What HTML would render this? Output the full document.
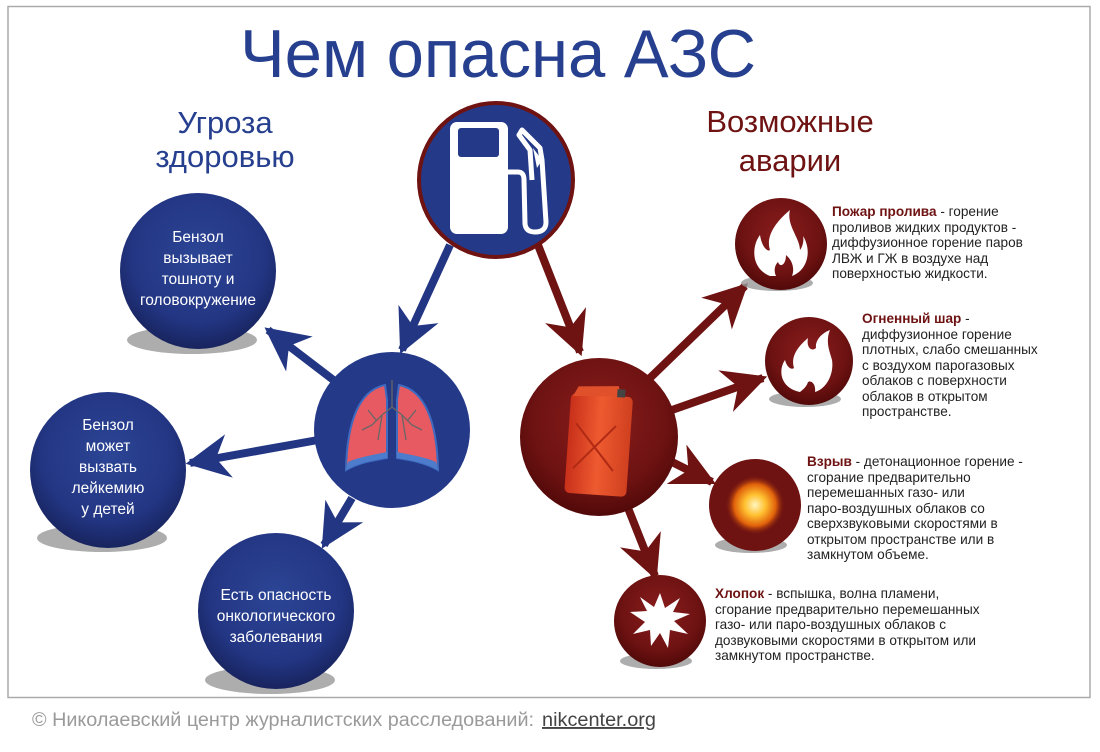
<!DOCTYPE html>
<html><head><meta charset="utf-8"><style>
html,body{margin:0;padding:0;background:#fff;}
svg{display:block;}
text{font-family:"Liberation Sans","DejaVu Sans",sans-serif;}
</style></head><body>
<svg width="1100" height="752" viewBox="0 0 1100 752" xmlns="http://www.w3.org/2000/svg">
<defs>
<radialGradient id="bg" cx="50%" cy="40%" r="60%"><stop offset="0" stop-color="#2c4595"/><stop offset="0.7" stop-color="#233684"/><stop offset="1" stop-color="#18245e"/></radialGradient>
<radialGradient id="rg" cx="50%" cy="40%" r="60%"><stop offset="0" stop-color="#8a1d1d"/><stop offset="0.7" stop-color="#6e1212"/><stop offset="1" stop-color="#520909"/></radialGradient>
<radialGradient id="boom" cx="50%" cy="50%" r="50%"><stop offset="0" stop-color="#fff6c0"/><stop offset="0.35" stop-color="#ffc030"/><stop offset="0.7" stop-color="#e0600a"/><stop offset="1" stop-color="#6e1212" stop-opacity="0"/></radialGradient>
<linearGradient id="can" x1="0" x2="1"><stop offset="0" stop-color="#c8301a"/><stop offset="0.5" stop-color="#ee5a30"/><stop offset="1" stop-color="#d0401f"/></linearGradient>
<marker id="ab" viewBox="0 0 10 10" refX="9" refY="5" markerWidth="5.5" markerHeight="5.5" orient="auto" markerUnits="strokeWidth"><path d="M0,0 L10,5 L0,10 L3,5 z" fill="#233684"/></marker>
<marker id="ar" viewBox="0 0 10 10" refX="9" refY="5" markerWidth="5.5" markerHeight="5.5" orient="auto" markerUnits="strokeWidth"><path d="M0,0 L10,5 L0,10 L3,5 z" fill="#6e1212"/></marker>
</defs>
<rect x="8" y="6.5" width="1082" height="691" fill="none" stroke="#aaa" stroke-width="1.5"/>

<text x="498" y="77" text-anchor="middle" font-size="68" fill="#263f8f" textLength="516" lengthAdjust="spacingAndGlyphs">Чем опасна АЗС</text>
<text x="225" y="133" text-anchor="middle" font-size="31" fill="#263f8f">Угроза</text>
<text x="225" y="167" text-anchor="middle" font-size="31" fill="#263f8f">здоровью</text>
<text x="790" y="132" text-anchor="middle" font-size="31" fill="#6e1212">Возможные</text>
<text x="790" y="171" text-anchor="middle" font-size="31" fill="#6e1212">аварии</text>

<g stroke="#233684" stroke-width="8" marker-end="url(#ab)" fill="none">
<line x1="450" y1="245" x2="402" y2="350"/>
<line x1="340" y1="385" x2="268" y2="330"/>
<line x1="318" y1="440" x2="190" y2="463"/>
<line x1="352" y1="498" x2="324" y2="545"/>
</g>
<g stroke="#6e1212" stroke-width="8" marker-end="url(#ar)" fill="none">
<line x1="538" y1="245" x2="580" y2="352"/>
<line x1="650" y1="378" x2="745" y2="286"/>
<line x1="672" y1="410" x2="763" y2="378"/>
<line x1="672" y1="462" x2="712" y2="482"/>
<line x1="628" y1="508" x2="655" y2="576"/>
</g>

<g fill="#999" opacity="0.8">
<ellipse cx="192" cy="340" rx="65" ry="14"/>
<ellipse cx="102" cy="538" rx="65" ry="14"/>
<ellipse cx="270" cy="680" rx="65" ry="14"/>
<ellipse cx="777" cy="283" rx="36" ry="8"/>
<ellipse cx="805" cy="399" rx="36" ry="8"/>
<ellipse cx="751" cy="545" rx="36" ry="8"/>
<ellipse cx="656" cy="661" rx="36" ry="8"/>
</g>

<circle cx="198" cy="271" r="78" fill="url(#bg)"/>
<circle cx="108" cy="470" r="78" fill="url(#bg)"/>
<circle cx="276" cy="611" r="78" fill="url(#bg)"/>
<circle cx="392" cy="430" r="78" fill="#243a88"/>
<circle cx="496" cy="180" r="77" fill="#243a88" stroke="#6e1212" stroke-width="4"/>
<circle cx="599" cy="437" r="79" fill="url(#rg)"/>

<rect x="450" y="122" width="58" height="112" rx="7" fill="#fff"/>
<rect x="458" y="128" width="41" height="29" rx="3" fill="#243a88"/>
<path d="M507,172 L518,172 Q524,172 524,180 L525,224 Q526,232 535,232 Q546,232 546,222 L542,160 L540,148 L522,130 L519,135 L530,150 L532,180" fill="none" stroke="#fff" stroke-width="5" stroke-linejoin="round"/>
<path d="M533,148 L537,168 L542,160 Z" fill="#fff"/>

<path d="M385,385 C360,390 347,420 346,470 C360,462 375,460 387,458 L387,400 Z" fill="#e85a62" stroke="#3e6ac0" stroke-width="2"/>
<path d="M399,385 C424,390 437,420 438,470 C424,462 409,460 397,458 L397,400 Z" fill="#e85a62" stroke="#3e6ac0" stroke-width="2"/>
<path d="M346,470 C360,462 375,460 387,458 L387,452 C372,455 356,458 348,462 Z" fill="#4d7ccc"/>
<path d="M438,470 C424,462 409,460 397,458 L397,452 C412,455 428,458 436,462 Z" fill="#4d7ccc"/>
<g stroke="#666" stroke-width="1.3" fill="none">
<line x1="392" y1="380" x2="392" y2="407"/>
<path d="M392,407 L382,415 L372,425 M382,415 L378,440 M372,425 L362,430 M392,407 L402,415 L412,425 M402,415 L406,440 M412,425 L422,430 M376,420 L368,410 M408,420 L416,410"/>
</g>

<g transform="rotate(4 600 440)">
<rect x="568" y="395" width="62" height="100" rx="5" fill="url(#can)"/>
<path d="M570,398 L575,388 L615,385 L618,395 Z" fill="#e0502a"/>
<rect x="614" y="388" width="8" height="8" fill="#444"/>
<path d="M575,425 L615,470 M615,425 L575,470" stroke="#b02a14" stroke-width="2"/>
</g>

<circle cx="781" cy="244" r="46" fill="url(#rg)"/>
<circle cx="809" cy="361" r="44" fill="url(#rg)"/>
<circle cx="755" cy="505" r="46" fill="#6e1212"/>
<circle cx="660" cy="621" r="46" fill="url(#rg)"/>
<path d="M770,276 C750,268 752,245 760,235 C762,248 768,252 770,250 C765,235 778,220 790,210 C786,225 800,238 800,250 C803,246 804,240 803,236 C812,250 808,270 792,276 C795,268 792,260 786,255 C786,265 780,268 778,262 C774,266 774,272 776,276 Z" fill="#fff"/>
<path d="M800,392 C780,388 778,370 785,360 C787,368 792,370 794,368 C790,355 800,345 808,338 C806,348 812,352 816,348 C815,340 822,333 830,330 C825,342 830,352 832,360 C834,372 828,388 815,392 C816,385 812,380 808,382 C806,388 802,390 800,392 Z" fill="#fff"/>
<circle cx="755" cy="505" r="30" fill="url(#boom)"/>
<polygon points="660,593 665,608 680,598 673,612 690,614 674,621 688,634 670,630 668,648 660,633 651,646 650,630 633,634 645,622 630,612 647,611 640,597 654,607" fill="#fff"/>

<g fill="#fff" font-size="15.5" text-anchor="middle">
<text x="198" y="242">Бензол</text><text x="198" y="263">вызывает</text><text x="198" y="284">тошноту и</text><text x="198" y="305">головокружение</text>
<text x="108" y="430">Бензол</text><text x="108" y="451">может</text><text x="108" y="472">вызвать</text><text x="108" y="493">лейкемию</text><text x="108" y="514">у детей</text>
<text x="276" y="600">Есть опасность</text><text x="276" y="621">онкологического</text><text x="276" y="642">заболевания</text>
</g>

<g fill="#222" font-size="13.6">
<text x="832" y="216"><tspan font-weight="bold" fill="#6e1212">Пожар пролива</tspan> - горение</text>
<text x="832" y="232">проливов жидких продуктов -</text>
<text x="832" y="247">диффузионное горение паров</text>
<text x="832" y="263">ЛВЖ и ГЖ в воздухе над</text>
<text x="832" y="278">поверхностью жидкости.</text>

<text x="862" y="323"><tspan font-weight="bold" fill="#6e1212">Огненный шар</tspan> -</text>
<text x="862" y="339">диффузионное горение</text>
<text x="862" y="354">плотных, слабо смешанных</text>
<text x="862" y="370">с воздухом парогазовых</text>
<text x="862" y="385">облаков с поверхности</text>
<text x="862" y="401">облаков в открытом</text>
<text x="862" y="416">пространстве.</text>

<text x="807" y="466"><tspan font-weight="bold" fill="#6e1212">Взрыв</tspan> - детонационное горение -</text>
<text x="807" y="482">сгорание предварительно</text>
<text x="807" y="497">перемешанных газо- или</text>
<text x="807" y="513">паро-воздушных облаков со</text>
<text x="807" y="528">сверхзвуковыми скоростями в</text>
<text x="807" y="544">открытом пространстве или в</text>
<text x="807" y="559">замкнутом объеме.</text>

<text x="715" y="598"><tspan font-weight="bold" fill="#6e1212">Хлопок</tspan> - вспышка, волна пламени,</text>
<text x="715" y="614">сгорание предварительно перемешанных</text>
<text x="715" y="629">газо- или паро-воздушных облаков с</text>
<text x="715" y="645">дозвуковыми скоростями в открытом или</text>
<text x="715" y="660">замкнутом пространстве.</text>
</g>

<text x="32" y="726" font-size="19" fill="#9a9a9a" textLength="502" lengthAdjust="spacingAndGlyphs">© Николаевский центр журналистских расследований:</text>
<text x="542" y="726" font-size="19" fill="#444" textLength="114" lengthAdjust="spacingAndGlyphs" text-decoration="underline">nikcenter.org</text>
</svg>
</body></html>
